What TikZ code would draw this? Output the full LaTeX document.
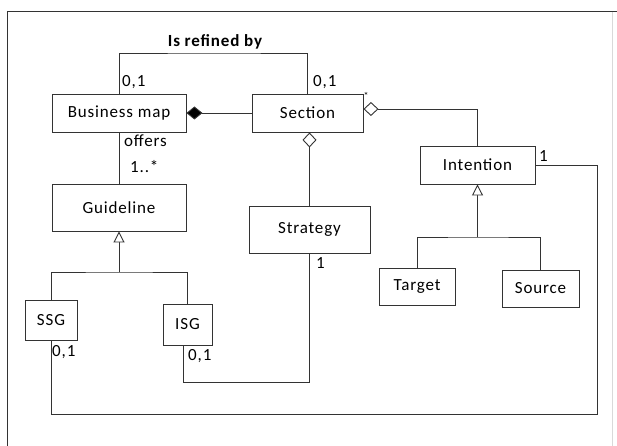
\documentclass[tikz,border=0pt]{standalone}
\usepackage{fontspec}
\setmainfont[LetterSpace=5]{Carlito}
\usepackage{xcolor}
\usetikzlibrary{arrows.meta}
\definecolor{linecol}{gray}{0.2}
\newcommand{\umlfont}{\fontsize{17}{20}\selectfont}
\tikzset{
  umlclass/.style={draw=linecol,line width=0.9pt,fill=white,inner sep=0pt,font=\umlfont},
  multiplicity/.style={font=\umlfont,inner sep=0pt,anchor=west},
  assoc/.style={draw=linecol,line width=0.9pt},
  composition/.style={assoc,-{Diamond[length=16pt,width=13pt,fill=black]}},
  aggregation/.style={assoc,-{Diamond[length=15pt,width=14pt,fill=white]}},
  generalization/.style={assoc,-{Triangle[length=11pt,width=11pt,fill=white]}}
}

\begin{document}
\begin{tikzpicture}[x=1pt,y=-1pt]
  \useasboundingbox (0,0) rectangle (617,446);
  \draw[linecol,line width=1pt] (617,12) -- (7,12) -- (7,446);
  \draw[black!15] (612,12) -- (612,446);
  \foreach \name/\x/\y/\w/\h/\text in {
    bmap/119/113/134/38/Business map,
    section/307.5/113/111/38/Section,
    guideline/119/207.5/134/47/Guideline,
    strategy/309.5/229.5/121/47/Strategy,
    intention/477.5/165/115/38/Intention,
    ssg/51/320/52/40/SSG,
    isg/187.5/324.5/49/41/ISG,
    target/417/286.5/76/37/Target,
    source/540.5/288.5/77/37/Source
  } {
    \node[umlclass,minimum width=\w pt,minimum height=\h pt] (\name) at (\x,\y) {\text};
  }
  \coordinate (refine) at (215,53);
  \coordinate (gsplit) at (119,272);
  \coordinate (isplit) at (477.5,237);
  \coordinate (isgbend) at (183,382);
  \coordinate (loopbr) at (597,414);
  % associations
  \draw[assoc] (bmap.north) |- (refine) -| (section.north);
  \node[font=\umlfont\bfseries,inner sep=0pt] (refinelabel) at (215,42) {Is refined by};
  \draw[composition] (section.west) -- (bmap.east);
  \draw[assoc] (bmap.south) -- (guideline.north);
  \draw[aggregation] (strategy.north) -- (strategy.north |- section.south);
  \draw[aggregation] (intention.north) |- ([yshift=4pt]section.east);
  \draw[assoc] ([xshift=-4.5pt]isg.south) -- (isgbend) -| (strategy.south);
  \draw[assoc] (ssg.south) |- (loopbr) |- (intention.east);
  % generalizations
  \draw[generalization] (gsplit) -- (guideline.south);
  \draw[assoc] (ssg.north) |- (gsplit) -| (isg.north);
  \draw[generalization] (isplit) -- (intention.south);
  \draw[assoc] (target.north) |- (isplit) -| (source.north);
  % labels
  \foreach \name/\x/\y/\text in {
    mbmap/122/82/{0,1},
    msection/313/82/{0,1},
    offers/124/141/offers,
    mguide/130/167/{1..*},
    mssg/52/352/{0,1},
    misg/188/356/{0,1},
    mstrategy/316/263/1,
    mintention/539/156/1
  } {
    \node[multiplicity] (\name) at (\x,\y) {\text};
  }
  \node[font=\fontsize{10}{10}\selectfont,inner sep=0pt] (mstar) at (366,96) {*};
\end{tikzpicture}
\end{document}
